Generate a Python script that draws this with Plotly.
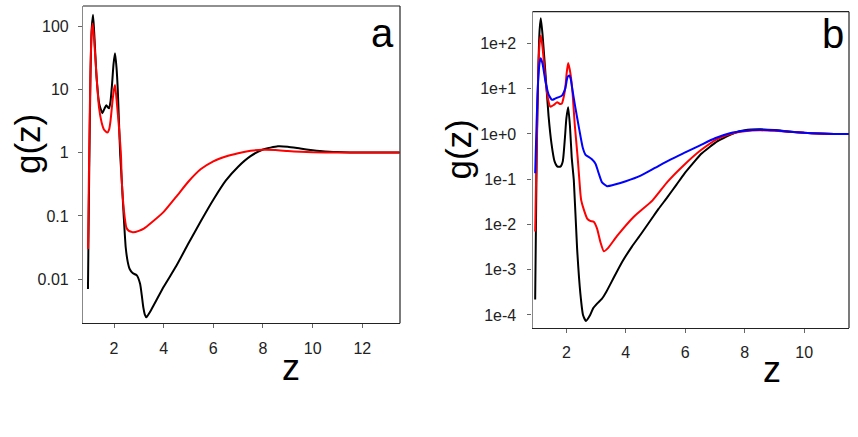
import plotly.graph_objects as go

# ---- Panel a data ----
za_black = [0.95, 1.0, 1.05, 1.1, 1.155, 1.2, 1.3, 1.4, 1.53, 1.62, 1.69, 1.75, 1.8, 1.86, 1.92, 1.98, 2.04, 2.1, 2.15, 2.2, 2.25, 2.31, 2.39, 2.47, 2.55, 2.63, 2.75, 2.91, 3.05, 3.12, 3.18, 3.25, 3.3, 3.5, 4.0, 4.5, 5.0, 5.5, 6.0, 6.5, 7.0, 7.5, 8.0, 8.6, 9.0, 9.5, 10.0, 10.5, 11.0, 12.0, 13.5]
ga_black = [0.007, 0.5, 15, 90, 150, 80, 15, 6.0, 4.2, 5.0, 5.6, 5.2, 5.0, 6.5, 12, 25, 37, 22, 10, 3.0, 0.9, 0.37, 0.1, 0.032, 0.019, 0.0145, 0.0125, 0.0116, 0.0085, 0.0055, 0.0036, 0.0027, 0.0025, 0.0033, 0.0076, 0.016, 0.037, 0.083, 0.18, 0.36, 0.6, 0.88, 1.12, 1.26, 1.24, 1.16, 1.09, 1.04, 1.02, 1.0, 1.0]

za_red = [0.95, 1.0, 1.05, 1.1, 1.14, 1.2, 1.3, 1.4, 1.5, 1.6, 1.73, 1.8, 1.86, 1.92, 1.98, 2.04, 2.1, 2.2, 2.28, 2.31, 2.4, 2.5, 2.6, 2.7, 2.78, 3.0, 3.2, 3.5, 4.0, 4.5, 5.0, 5.5, 6.0, 6.5, 7.0, 7.5, 8.0, 8.5, 9.0, 9.5, 10.0, 11.0, 13.5]
ga_red = [0.03, 1.0, 20, 80, 110, 60, 15, 5.0, 3.0, 2.3, 2.07, 2.3, 3.2, 5.5, 9.0, 11.7, 7.0, 2.5, 0.9, 0.37, 0.12, 0.065, 0.058, 0.056, 0.055, 0.058, 0.063, 0.078, 0.116, 0.2, 0.35, 0.55, 0.73, 0.87, 0.98, 1.07, 1.11, 1.1, 1.06, 1.03, 1.01, 1.0, 1.0]

# ---- Panel b data ----
zb_black = [0.95, 1.0, 1.05, 1.1, 1.14, 1.2, 1.3, 1.4, 1.5, 1.6, 1.7, 1.8, 1.88, 1.95, 2.0, 2.06, 2.12, 2.18, 2.25, 2.36, 2.47, 2.56, 2.66, 2.8, 2.9, 3.04, 3.2, 3.35, 3.6, 3.88, 4.2, 4.5, 4.84, 5.1, 5.4, 5.7, 5.96, 6.25, 6.53, 6.8, 7.09, 7.4, 7.65, 8.0, 8.5, 9.0, 9.5, 10.0, 10.5, 11.0, 11.5]
gb_black = [0.00022, 0.3, 20, 200, 357, 150, 20, 2.5, 0.6, 0.25, 0.19, 0.19, 0.25, 0.8, 2.2, 3.9, 1.5, 0.3, 0.095, 0.003, 0.0003, 0.0001, 0.000074, 0.0001, 0.00014, 0.00018, 0.00023, 0.00033, 0.00068, 0.0015, 0.0032, 0.006, 0.0125, 0.022, 0.04, 0.075, 0.13, 0.22, 0.36, 0.5, 0.69, 0.88, 1.05, 1.2, 1.26, 1.22, 1.13, 1.06, 1.02, 1.0, 1.0]

zb_red = [0.95, 1.0, 1.05, 1.1, 1.14, 1.2, 1.3, 1.38, 1.46, 1.58, 1.69, 1.78, 1.85, 1.91, 1.96, 2.01, 2.06, 2.14, 2.21, 2.28, 2.38, 2.47, 2.5, 2.59, 2.7, 2.8, 2.92, 3.03, 3.15, 3.26, 3.4, 3.7, 4.27, 4.9, 5.4, 5.96, 6.53, 7.09, 7.65, 8.0, 8.5, 9.0, 9.5, 10.0, 10.5, 11.0, 11.5]
gb_red = [0.007, 0.5, 20, 100, 150, 80, 15, 6.0, 4.0, 4.4, 5.0, 4.6, 4.7, 6.5, 10, 22, 36.7, 21, 7.7, 1.66, 0.3, 0.05, 0.034, 0.021, 0.0135, 0.012, 0.0115, 0.0082, 0.004, 0.00255, 0.003, 0.0055, 0.0148, 0.034, 0.087, 0.206, 0.44, 0.78, 1.05, 1.15, 1.2, 1.17, 1.11, 1.06, 1.02, 1.0, 1.0]

zb_blue = [0.95, 1.0, 1.05, 1.1, 1.14, 1.2, 1.3, 1.4, 1.52, 1.62, 1.72, 1.85, 1.96, 2.04, 2.1, 2.15, 2.19, 2.3, 2.43, 2.55, 2.64, 2.75, 2.85, 2.98, 3.08, 3.2, 3.37, 3.6, 4.0, 4.5, 5.0, 5.5, 6.0, 6.5, 7.0, 7.5, 8.0, 8.5, 9.0, 9.5, 10.0, 10.5, 11.0, 11.5]
gb_blue = [0.135, 2.0, 15, 38, 47, 35, 14, 7.5, 5.65, 6.0, 6.4, 7.0, 10, 18, 19.5, 16, 10.8, 3.9, 1.29, 0.5, 0.35, 0.31, 0.28, 0.22, 0.14, 0.085, 0.07, 0.075, 0.09, 0.12, 0.18, 0.27, 0.39, 0.56, 0.8, 1.03, 1.17, 1.24, 1.2, 1.12, 1.06, 1.02, 1.0, 1.0]

ticks_a = [0.01, 0.1, 1, 10, 100]
ticktext_a = ["0.01", "0.1", "1", "10", "100"]
ticks_b = [1e-4, 1e-3, 1e-2, 1e-1, 1, 10, 100]
ticktext_b = ["1e-4", "1e-3", "1e-2", "1e-1", "1e+0", "1e+1", "1e+2"]
xticks_a = [2, 4, 6, 8, 10, 12]
xticks_b = [2, 4, 6, 8, 10]

W, H = 858, 437
FONT = "Arial, Liberation Sans, sans-serif"

fig = go.Figure()
lw = 2
def line(color):
    return dict(color=color, width=lw, shape="spline", smoothing=0.5)

fig.add_trace(go.Scatter(x=za_black, y=ga_black, mode="lines", line=line("black"), xaxis="x", yaxis="y"))
fig.add_trace(go.Scatter(x=za_red, y=ga_red, mode="lines", line=line("red"), xaxis="x", yaxis="y"))
fig.add_trace(go.Scatter(x=zb_black, y=gb_black, mode="lines", line=line("black"), xaxis="x2", yaxis="y2"))
fig.add_trace(go.Scatter(x=zb_red, y=gb_red, mode="lines", line=line("red"), xaxis="x2", yaxis="y2"))
fig.add_trace(go.Scatter(x=zb_blue, y=gb_blue, mode="lines", line=line("blue"), xaxis="x2", yaxis="y2"))

def px_x(v): return v / W
def px_y(v): return 1 - v / H

xa = dict(showgrid=False, zeroline=False, showline=True, linecolor="#222", linewidth=1.2,
          ticks="outside", ticklen=4, tickcolor="#666", tickfont=dict(size=16, color="#222", family=FONT),
          ticklabelstandoff=6)
ya = dict(type="log", showgrid=False, zeroline=False, showline=True, linecolor="#888", linewidth=1.2,
          ticks="outside", ticklen=4, tickcolor="#666", tickfont=dict(size=16, color="#222", family=FONT),
          ticklabelstandoff=6)

fig.update_layout(
    width=W, height=H, margin=dict(l=0, r=0, t=0, b=0),
    paper_bgcolor="white", plot_bgcolor="white", showlegend=False,
    font=dict(family=FONT),
    xaxis=dict(xa, domain=[px_x(83), px_x(400)], range=[0.75, 13.52], tickvals=xticks_a, anchor="y"),
    yaxis=dict(ya, domain=[px_y(323.3), px_y(6)], range=[-2.696, 2.316], tickvals=ticks_a, ticktext=ticktext_a, anchor="x"),
    xaxis2=dict(xa, domain=[px_x(532.5), px_x(849)], range=[0.86, 11.51], tickvals=xticks_b, anchor="y2"),
    yaxis2=dict(ya, domain=[px_y(328), px_y(11.7)], range=[-4.288, 2.70], tickvals=ticks_b, ticktext=ticktext_b, anchor="x2", ticklabelstandoff=8),
)

# top and right frame lines
for xr, yr in [("x domain", "y domain"), ("x2 domain", "y2 domain")]:
    fig.add_shape(type="line", xref=xr, yref=yr, x0=0, x1=1, y0=1, y1=1, line=dict(color="#222", width=1.2))
    fig.add_shape(type="line", xref=xr, yref=yr, x0=1, x1=1, y0=0, y1=1, line=dict(color="#222", width=1.2))

def ann(text, x, y, size, angle=0):
    fig.add_annotation(text=text, x=px_x(x), y=px_y(y), xref="paper", yref="paper",
                       showarrow=False, textangle=angle, xanchor="center", yanchor="middle",
                       font=dict(size=size, color="black", family=FONT))

ann("a", 382.5, 33, 40)
ann("b", 833, 34, 40)
ann("g(z)", 27, 144, 35, -90)
ann("g(z)", 458, 149.5, 35, -90)
ann("z", 291, 367, 36)
ann("z", 772, 369, 36)

fig.write_html("out.html")
